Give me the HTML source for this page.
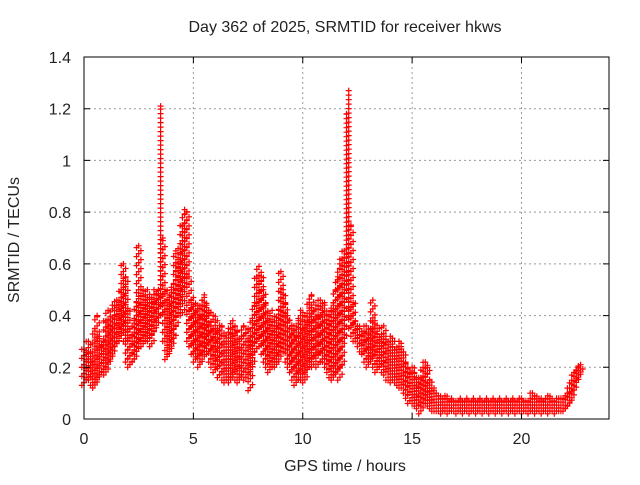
<!DOCTYPE html>
<html><head><meta charset="utf-8"><style>
body{margin:0;background:#fff}
svg text{font-family:"Liberation Sans",sans-serif;fill:#222}
</style></head><body>
<svg id="chart" width="640" height="480" xmlns="http://www.w3.org/2000/svg">
<text x="345" y="32" font-size="16" text-anchor="middle">Day 362 of 2025, SRMTID for receiver hkws</text>
<text x="0" y="0" font-size="16" text-anchor="middle" transform="translate(19,240) rotate(-90)">SRMTID / TECUs</text>
<text x="345" y="471" font-size="16" text-anchor="middle">GPS time / hours</text>
<g id="grid"></g>
<g id="marks"></g>
<rect x="84" y="57" width="525" height="362" fill="none" stroke="#000" stroke-width="1"/>
<g id="ticks"></g>
</svg>
<script>
const xTicks=[0,5,10,15,20];
const yTicks=[0,0.2,0.4,0.6,0.8,1,1.2,1.4];
const yTickLabels=["0","0.2","0.4","0.6","0.8","1","1.2","1.4"];
const timeStep=0.1;
const hiVals=[.27,.25,.3,.26,.22,.35,.4,.32,.28,.3,
.38,.42,.36,.44,.4,.46,.45,.5,.6,.55,
.42,.35,.3,.38,.45,.67,.5,.45,.48,.5,
.47,.45,.5,.48,.5,1.21,.7,.5,.45,.48,
.5,.52,.65,.6,.66,.75,.81,.8,.55,.45,
.47,.42,.44,.4,.46,.48,.44,.42,.36,.4,
.35,.38,.34,.36,.32,.3,.35,.33,.38,.36,
.34,.3,.32,.36,.33,.35,.3,.38,.45,.55,
.59,.55,.5,.45,.38,.4,.42,.36,.38,.42,
.57,.5,.45,.4,.38,.35,.36,.32,.38,.42,
.35,.4,.38,.45,.48,.42,.44,.4,.46,.42,
.45,.4,.38,.42,.45,.5,.55,.6,.62,.65,
1.18,1.27,.75,.45,.38,.36,.35,.32,.34,.36,
.33,.35,.46,.38,.33,.35,.3,.36,.32,.3,
.32,.28,.3,.27,.3,.28,.26,.22,.2,.18,
.2,.18,.16,.14,.16,.2,.22,.2,.15,.12,
.12,.1,.09,.08,.08,.09,.08,.07,.08,.07,
.07,.07,.08,.07,.07,.08,.07,.07,.08,.07,
.07,.08,.07,.07,.08,.07,.07,.08,.07,.07,
.08,.07,.07,.08,.07,.07,.08,.07,.07,.08,
.08,.07,.07,.07,.08,.1,.09,.08,.07,.08,
.07,.08,.09,.08,.07,.07,.08,.08,.08,.08,
.09,.1,.12,.15,.18,.19,.2,.21];
const loVals=[.13,.14,.16,.15,.13,.12,.14,.16,.17,.18,
.17,.2,.22,.24,.27,.28,.3,.32,.35,.3,
.22,.2,.21,.22,.25,.28,.3,.28,.3,.32,
.3,.28,.33,.35,.38,.45,.4,.3,.23,.25,
.27,.3,.35,.4,.45,.4,.5,.55,.3,.28,
.25,.22,.24,.2,.22,.25,.28,.25,.22,.2,
.18,.2,.16,.17,.15,.14,.15,.14,.16,.18,
.15,.14,.16,.17,.15,.16,.11,.2,.25,.3,
.3,.28,.25,.22,.2,.18,.2,.22,.2,.22,
.25,.28,.26,.22,.2,.18,.15,.13,.15,.18,
.15,.14,.18,.2,.22,.2,.24,.2,.25,.22,
.22,.2,.18,.16,.15,.17,.18,.15,.2,.3,
.5,.4,.35,.32,.3,.3,.28,.26,.25,.22,
.2,.22,.24,.2,.18,.2,.2,.18,.17,.15,
.15,.14,.15,.14,.13,.12,.12,.1,.08,.06,
.07,.06,.05,.04,.02,.05,.08,.06,.05,.04,
.03,.03,.03,.03,.02,.03,.03,.02,.03,.03,
.03,.02,.03,.03,.02,.03,.03,.02,.03,.03,
.02,.03,.03,.02,.03,.03,.02,.03,.03,.02,
.03,.03,.02,.03,.03,.02,.03,.03,.02,.03,
.03,.02,.03,.03,.02,.03,.03,.02,.03,.03,
.02,.03,.03,.02,.03,.03,.02,.03,.03,.03,
.03,.04,.05,.07,.1,.13,.15,.17];
const X0=84,X1=609,Y0=419,Y1=57;
function xs(t){return X0+(t/24)*(X1-X0);}
function ys(v){return Y0-(v/1.4)*(Y0-Y1);}
const NS="http://www.w3.org/2000/svg";
const grid=document.getElementById('grid'),ticks=document.getElementById('ticks'),marks=document.getElementById('marks');
xTicks.forEach(t=>{
  const x=xs(t);
  if(t>0){const g=document.createElementNS(NS,'line');
  
  
  g.setAttribute('x1',x);g.setAttribute('x2',x);g.setAttribute('y1',Y1);g.setAttribute('y2',Y0);
  g.setAttribute('stroke','#999');g.setAttribute('stroke-dasharray','2,3');grid.appendChild(g);}
  const tk=document.createElementNS(NS,'path');
  
  
  tk.setAttribute('d',`M${x},${Y0}v-6M${x},${Y1}v6`);tk.setAttribute('stroke','#000');ticks.appendChild(tk);
  const l=document.createElementNS(NS,'text');
  
  
  l.setAttribute('x',x);l.setAttribute('y',444);l.setAttribute('font-size','16');l.setAttribute('text-anchor','middle');
  l.textContent=t;ticks.appendChild(l);
});
yTicks.forEach((v,i)=>{
  const y=ys(v);
  if(v>0&&v<1.4){const g=document.createElementNS(NS,'line');
  
  
  g.setAttribute('x1',X0);g.setAttribute('x2',X1);g.setAttribute('y1',y);g.setAttribute('y2',y);
  g.setAttribute('stroke','#999');g.setAttribute('stroke-dasharray','2,3');grid.appendChild(g);}
  const tk=document.createElementNS(NS,'path');
  
  
  tk.setAttribute('d',`M${X0},${y}h6M${X1},${y}h-6`);tk.setAttribute('stroke','#000');ticks.appendChild(tk);
  const l=document.createElementNS(NS,'text');
  
  
  l.setAttribute('x',X0-13);l.setAttribute('y',y+6);l.setAttribute('font-size','16');l.setAttribute('text-anchor','end');
  l.textContent=yTickLabels[i];ticks.appendChild(l);
});
let d='';
hiVals.forEach((hi,i)=>{
  const lo=loVals[i];
  const x=xs(i*timeStep);
  const yt=ys(hi),yb=ys(lo);
  const tall=(yb-yt)>120;
  const step=tall?4.5:3;
  let k=0;
  for(let y=yb;y>=yt-0.1;y-=step){
    const dx=tall?0:(k%3-1)*2.2;
    d+=`M${(x+dx-3).toFixed(1)},${y.toFixed(1)}h6M${(x+dx).toFixed(1)},${(y-3).toFixed(1)}v6`;
    k++;
  }
  d+=`M${(x-3).toFixed(1)},${yt.toFixed(1)}h6M${x.toFixed(1)},${(yt-3).toFixed(1)}v6`;
});
const p=document.createElementNS(NS,'path');


p.setAttribute('d',d);p.setAttribute('stroke','#f00');p.setAttribute('stroke-width','1.2');p.setAttribute('fill','none');
marks.appendChild(p);
</script>
</body></html>
